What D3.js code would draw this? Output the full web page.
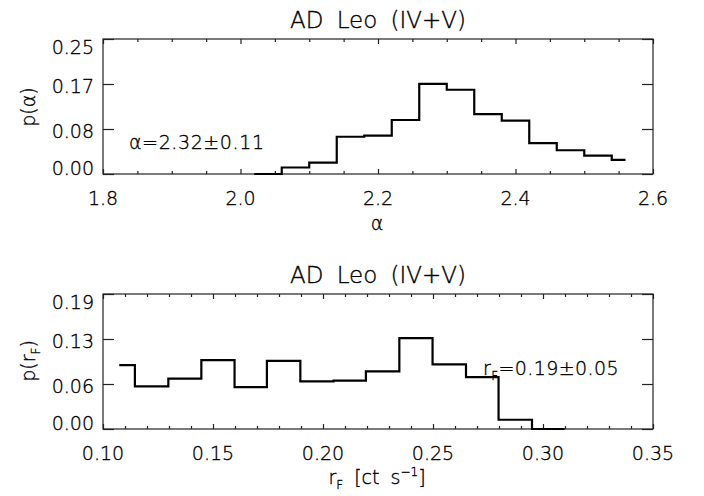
<!DOCTYPE html>
<html>
<head>
<meta charset="utf-8">
<script src="https://cdn.jsdelivr.net/npm/d3@7"></script>
<style>
  html, body { margin: 0; padding: 0; background: #fff; }
  svg { display: block; }
  text { font-family: "DejaVu Sans", "Liberation Sans", sans-serif; fill: #000; font-weight: 200; stroke: #000; stroke-width: 0.35; }
</style>
</head>
<body>
<script>
// ---- data ----
const titleText = "AD Leo (IV+V)";

// panel 1: alpha distribution (bin edges and probabilities)
const alphaEdges = [2.02, 2.06, 2.10, 2.14, 2.18, 2.22, 2.26, 2.30, 2.34, 2.38, 2.42, 2.46, 2.50, 2.54, 2.56];
const alphaProb  = [0.000, 0.012, 0.021, 0.069, 0.071, 0.100, 0.167, 0.156, 0.111, 0.099, 0.057, 0.044, 0.034, 0.026];
const alphaXDomain = [1.8, 2.6];
const alphaXMajor = [1.8, 2.0, 2.2, 2.4, 2.6];
const alphaXMajorLabels = ["1.8", "2.0", "2.2", "2.4", "2.6"];
const alphaXMinorStep = 0.05;
const alphaYMax = 0.25;
const alphaYTickLabels = ["0.00", "0.08", "0.17", "0.25"];
const alphaNote = "α=2.32±0.11";

// panel 2: r_F distribution
const rEdges = [0.1074, 0.1145, 0.1297, 0.1447, 0.1598, 0.1745, 0.1897, 0.2048, 0.2195, 0.2347, 0.2498, 0.2650, 0.2798, 0.2950, 0.3098];
const rProb  = [0.090, 0.060, 0.071, 0.097, 0.059, 0.096, 0.067, 0.068, 0.081, 0.128, 0.091, 0.073, 0.013, 0.000];
const rXDomain = [0.10, 0.35];
const rXMajor = [0.10, 0.15, 0.20, 0.25, 0.30, 0.35];
const rXMajorLabels = ["0.10", "0.15", "0.20", "0.25", "0.30", "0.35"];
const rXMinorStep = 0.01;
const rYMax = 0.19;
const rYTickLabels = ["0.00", "0.06", "0.13", "0.19"];

// ---- drawing ----
const W = 704, H = 496;
const svg = d3.select("body").append("svg").attr("width", W).attr("height", H);

const left = 103, right = 653;

function panel(cfg) {
  const g = svg.append("g");
  const top = cfg.top, bottom = cfg.top + 135;
  const x = d3.scaleLinear().domain(cfg.xDomain).range([left, right]);
  const y = d3.scaleLinear().domain([0, cfg.yMax]).range([bottom, top]);

  // frame
  g.append("rect").attr("x", left).attr("y", top).attr("width", right - left).attr("height", bottom - top)
    .attr("fill", "none").attr("stroke", "#222").attr("stroke-width", 1.2);

  // x minor/major ticks (bottom and top, inward)
  const nMinor = Math.round((cfg.xDomain[1] - cfg.xDomain[0]) / cfg.xMinorStep);
  const minorVals = d3.range(nMinor + 1).map(i => cfg.xDomain[0] + i * cfg.xMinorStep);
  const isMajor = v => cfg.xMajor.some(m => Math.abs(m - v) < 1e-9);
  const tickStyle = sel => { sel.select(".domain").remove(); sel.selectAll("line").attr("stroke", "#222").attr("stroke-width", 1.2); sel.selectAll("text").remove(); };
  g.append("g").attr("transform", `translate(0,${bottom})`)
    .call(d3.axisTop(x).tickValues(minorVals.filter(v => !isMajor(v))).tickSize(3).tickSizeOuter(0)).call(tickStyle);
  g.append("g").attr("transform", `translate(0,${bottom})`)
    .call(d3.axisTop(x).tickValues(cfg.xMajor).tickSize(5).tickSizeOuter(0)).call(tickStyle);
  g.append("g").attr("transform", `translate(0,${top})`)
    .call(d3.axisBottom(x).tickValues(minorVals.filter(v => !isMajor(v))).tickSize(3).tickSizeOuter(0)).call(tickStyle);
  g.append("g").attr("transform", `translate(0,${top})`)
    .call(d3.axisBottom(x).tickValues(cfg.xMajor).tickSize(5).tickSizeOuter(0)).call(tickStyle);

  // x labels
  g.selectAll(".xl").data(cfg.xMajor).enter().append("text")
    .attr("x", d => x(d)).attr("y", bottom + 31).attr("text-anchor", "middle")
    .attr("font-size", 19).text((d, i) => cfg.xMajorLabels[i]);

  // y ticks (left and right, inward)
  const yVals = d3.range(4).map(i => cfg.yMax * i / 3);
  g.append("g").attr("transform", `translate(${left},0)`)
    .call(d3.axisRight(y).tickValues(yVals).tickSize(11).tickSizeOuter(0)).call(tickStyle);
  g.append("g").attr("transform", `translate(${right},0)`)
    .call(d3.axisLeft(y).tickValues(yVals).tickSize(11).tickSizeOuter(0)).call(tickStyle);

  // y labels
  g.selectAll(".yl").data(yVals).enter().append("text")
    .attr("x", left - 9).attr("text-anchor", "end").attr("font-size", 19)
    .attr("y", d => Math.max(top + 14.5, Math.min(bottom + 0.5, y(d) + 9)))
    .text((d, i) => cfg.yLabels[i]);

  // title
  g.append("text").attr("x", 378).attr("y", top - 11).attr("text-anchor", "middle")
    .attr("font-size", 23).attr("word-spacing", 6).text(titleText);

  // histogram step line
  const pts = cfg.edges.slice(0, -1).map((e, i) => [e, cfg.prob[i]]);
  pts.push([cfg.edges[cfg.edges.length - 1], cfg.prob[cfg.prob.length - 1]]);
  const line = d3.line().x(d => x(d[0])).y(d => y(d[1])).curve(d3.curveStepAfter);
  g.append("path").attr("d", line(pts)).attr("fill", "none").attr("stroke", "#000")
    .attr("stroke-width", 2.2).attr("stroke-linejoin", "miter");

  return { g, x, y, top, bottom };
}

const p1 = panel({ top: 39, xDomain: alphaXDomain, xMajor: alphaXMajor, xMajorLabels: alphaXMajorLabels,
  xMinorStep: alphaXMinorStep, yMax: alphaYMax, yLabels: alphaYTickLabels, edges: alphaEdges, prob: alphaProb });
const p2 = panel({ top: 294, xDomain: rXDomain, xMajor: rXMajor, xMajorLabels: rXMajorLabels,
  xMinorStep: rXMinorStep, yMax: rYMax, yLabels: rYTickLabels, edges: rEdges, prob: rProb });

// panel 1 axis titles and note
p1.g.append("text").attr("x", 377).attr("y", 230).attr("text-anchor", "middle").attr("font-size", 19)
  .text("α");
p1.g.append("text").attr("transform", "translate(35,107) rotate(-90)").attr("text-anchor", "middle")
  .attr("font-size", 19).text("p(α)");
p1.g.append("text").attr("x", 129).attr("y", 149).attr("font-size", 19).attr("letter-spacing", 0.6)
  .text(alphaNote);

// panel 2 axis titles and note
p2.g.append("text").attr("x", 377).attr("y", 484).attr("text-anchor", "middle").attr("font-size", 19)
  .attr("word-spacing", 5)
  .html('r<tspan font-size="12" dy="5">F</tspan><tspan dy="-5"> [ct s</tspan><tspan font-size="12" dy="-8">−1</tspan><tspan dy="8">]</tspan>');
p2.g.append("text").attr("transform", "translate(35,361) rotate(-90)").attr("text-anchor", "middle")
  .attr("font-size", 19)
  .html('p(r<tspan font-size="12" dy="5">F</tspan><tspan dy="-5">)</tspan>');
p2.g.append("text").attr("x", 483).attr("y", 375).attr("font-size", 19).attr("letter-spacing", 0.4)
  .html('r<tspan font-size="12" dy="5">F</tspan><tspan dy="-5">=0.19±0.05</tspan>');
</script>
</body>
</html>
